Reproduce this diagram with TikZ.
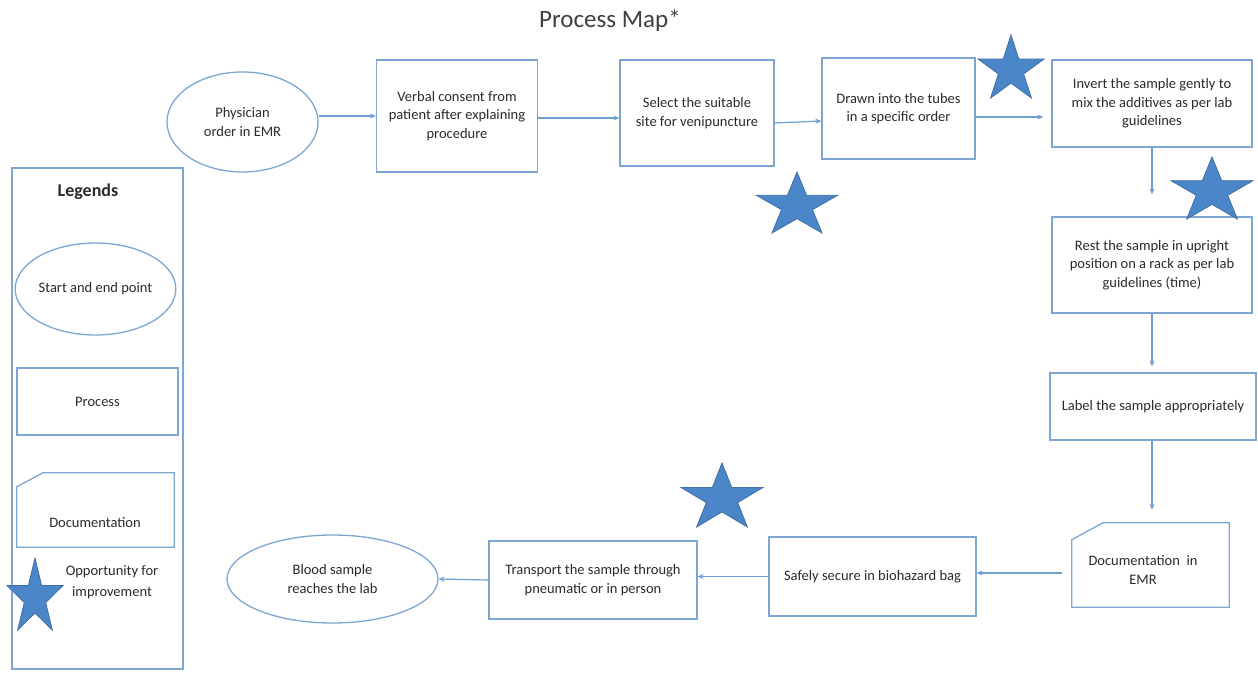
\documentclass[tikz,border=0pt]{standalone}
\usepackage{fontspec}
\setmainfont{Carlito}
\usetikzlibrary{shapes.geometric,arrows.meta,calc}
\definecolor{boxc}{HTML}{7EA6D2}
\definecolor{arrc}{HTML}{6E9FD0}
\definecolor{starf}{HTML}{4A86C8}
\definecolor{stard}{HTML}{3F6FA3}
\definecolor{txt}{HTML}{2B2B2B}
\definecolor{titlec}{HTML}{404040}
\tikzset{
  base/.style={font=\fontsize{14.5}{18.5}\selectfont, text=txt, align=center, inner sep=0pt},
  procbox/.style={base, rectangle, draw=boxc, line width=1.3pt},
  termnode/.style={base, ellipse, draw=boxc, line width=1.3pt},
  plainshape/.style={base, rectangle},
  outline/.style={draw=boxc, line width=1.3pt},
  flow/.style={draw=arrc, line width=1.2pt, -{Stealth[length=6pt,width=5pt]}},
  starsty/.style={fill=starf, draw=stard, line width=0.8pt, line join=miter}
}
\newcommand\ostar[4]{%
  \draw[starsty] plot[samples at={0,...,9}]
    ({#1+#3/1.902*(mod(\x,2)==0?1:0.382)*cos(90+36*\x)},
     {#2-#4/1.809*((mod(\x,2)==0?1:0.382)*sin(90+36*\x)-0.0955)}) -- cycle;}
\begin{document}
\begin{tikzpicture}[x=1pt,y=-1pt]
\useasboundingbox[fill=white] (0,0) rectangle (1258,672);

% title
\node[font=\fontsize{25}{30}\selectfont, text=titlec, inner sep=0pt, anchor=base] (title) at (610,27) {Process Map*};

% main flow
\node[termnode, minimum width=151pt, minimum height=100pt] (e1) at (242.5,122) {Physician\\order in EMR};
\node[procbox, minimum width=161pt, minimum height=112pt] (verbal) at (457,116) {Verbal consent from\\patient after explaining\\procedure};
\node[procbox, minimum width=154pt, minimum height=106pt] (select) at (697,113) {Select the suitable\\site for venipuncture};
\node[procbox, minimum width=153pt, minimum height=101pt] (drawn) at (898.5,108.5) {Drawn into the tubes\\in a specific order};
\node[procbox, minimum width=200pt, minimum height=87pt] (invert) at (1152,103.5) {Invert the sample gently to\\mix the additives as per lab\\guidelines};
\node[procbox, minimum width=200pt, minimum height=96pt] (rest) at (1152,265) {Rest the sample in upright\\position on a rack as per lab\\guidelines (time)};
\node[procbox, minimum width=206pt, minimum height=67pt] (label) at (1153,406.5) {Label the sample appropriately};
\node[plainshape, minimum width=157pt, minimum height=84pt] (doc) at (1150.5,565) {};
\draw[outline] ($(doc.north west)+(0,17)$) -- ($(doc.north west)+(31,0)$) -- (doc.north east) -- (doc.south east) -- (doc.south west) -- cycle;
\node[base] (doctext) at (1143,570) {Documentation\ \ in\\EMR};
\node[procbox, minimum width=207pt, minimum height=79pt] (safely) at (872.5,576.5) {Safely secure in biohazard bag};
\node[procbox, minimum width=208pt, minimum height=78pt] (transport) at (593,580) {Transport the sample through\\pneumatic or in person};
\node[termnode, minimum width=211pt, minimum height=88pt] (blood) at (332.5,579) {Blood sample\\reaches the lab};

% connectors
\draw[flow] (e1.east |- verbal.west) -- (verbal.west);
\coordinate (a2) at ($(verbal.east)+(0,2)$);
\draw[flow] (a2) -- (a2 -| select.west);
\draw[flow] ([yshift=-10pt]select.east) -- ([yshift=-12.5pt]drawn.west);
\coordinate (a4) at ($(drawn.east)+(0,8.5)$);
\draw[flow, shorten >=8pt] (a4) -- (a4 -| invert.west);
\draw[flow, shorten >=22pt] (invert.south) -- (rest.north);
\draw[flow, shorten >=6pt] (rest.south) -- (rest.south |- label.north);
\draw[flow, shorten >=13pt] (rest.south |- label.south) -- (rest.south |- doc.north);
\coordinate (a8) at ($(doc.west)+(0,8)$);
\draw[flow, shorten <=10pt] (a8) -- (a8 -| safely.east);
\draw[flow] (safely.west) -- (safely.west -| transport.east);
\draw[flow] (transport.west) -- (blood.east);

% stars
\ostar{1011}{66.5}{66}{63}
\ostar{797}{202.5}{81}{61}
\ostar{1212}{188}{82}{62}
\ostar{722}{495}{82}{64}

% legend
\node[plainshape, draw=boxc, line width=1.3pt, minimum width=171pt, minimum height=501pt] (legend) at (97.5,418.5) {};
\node[base, font=\fontsize{18}{22}\selectfont\bfseries] (legtitle) at (88,192) {Legends};
\node[termnode, minimum width=135pt, minimum height=92pt] (legterm) at (95.5,289) {Start and end point};
\node[procbox, minimum width=161pt, minimum height=67pt] (legproc) at (97.5,401.5) {Process};
\node[plainshape, minimum width=157pt, minimum height=74pt] (legdoc) at (95.5,510) {};
\draw[outline] ($(legdoc.north west)+(0,14)$) -- ($(legdoc.north west)+(26,0)$) -- (legdoc.north east) -- (legdoc.south east) -- (legdoc.south west) -- cycle;
\node[base] (legdoctext) at (95,523) {Documentation};
\ostar{35}{594}{56}{72}
\node[base, font=\fontsize{14.5}{21}\selectfont] (legstartext) at (112,582.5) {Opportunity for\\improvement};
\end{tikzpicture}
\end{document}
